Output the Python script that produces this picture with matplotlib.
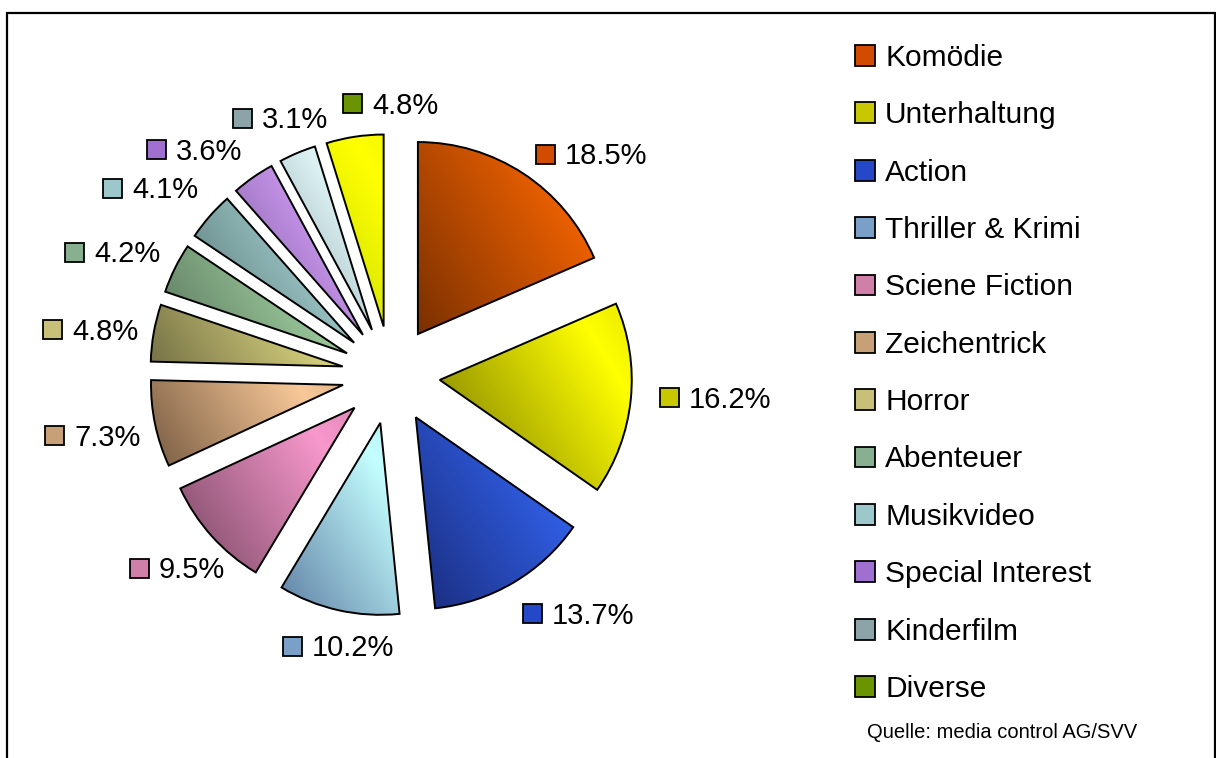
import numpy as np
import matplotlib
matplotlib.use("Agg")
import matplotlib.pyplot as plt
from matplotlib.patches import Rectangle, Patch
from matplotlib.colors import to_rgb

plt.rcParams['font.family'] = ['Liberation Sans', 'DejaVu Sans']

# ---- data ----
categories = ["Komödie", "Unterhaltung", "Action", "Thriller & Krimi", "Sciene Fiction",
              "Zeichentrick", "Horror", "Abenteuer", "Musikvideo", "Special Interest",
              "Kinderfilm", "Diverse"]
shares = [18.5, 16.2, 13.7, 10.2, 9.5, 7.3, 4.8, 4.2, 4.1, 3.6, 3.1, 4.8]
source_note = "Quelle: media control AG/SVV"

# ---- styles ----
slice_dark = ["#7a3000", "#767600", "#1a2c7c", "#5f7fa4", "#784864", "#785c42",
              "#767246", "#5c785e", "#587676", "#785a98", "#8ea6ae", "#c8dc00"]
slice_light = ["#f06200", "#ffff00", "#3262ec", "#c4ffff", "#f898cc", "#f8c898",
               "#d8d27e", "#a2d2a2", "#a8d4d4", "#daa2ff", "#eaffff", "#ffff00"]
key_colors = ["#d24c00", "#c8c800", "#2448c8", "#7aa0c8", "#d080a8", "#c8a078",
              "#c8c078", "#88b090", "#9cc8cc", "#a070d0", "#8ca4a8", "#6a9400"]

# ---- layout (pixel coords, y from top) ----
W, H = 1216, 758
pie_center = (391, 375)
pie_radius = 192
pie_explode = 49
label_key_x = [536, 660, 523, 283, 130, 45, 43, 65, 103, 147, 233, 343]
label_y = [154, 397, 613, 646, 568, 435, 329, 252, 188, 149, 118, 103]
key_size = 19

fig = plt.figure(figsize=(W / 100, H / 100), dpi=100)
ax = fig.add_axes([0, 0, 1, 1])


def Y(y):
    return H - y


wedges, _ = ax.pie(shares, explode=[pie_explode] * len(shares), radius=pie_radius,
                   center=(pie_center[0], Y(pie_center[1])), startangle=90,
                   counterclock=False, colors=key_colors,
                   wedgeprops=dict(edgecolor="black", linewidth=1.4))

ang = np.deg2rad(32)
for w, dk, lt in zip(wedges, slice_dark, slice_light):
    w.set_facecolor("none")
    w.set_zorder(3)
    v = w.get_path().vertices
    x0, y0 = v.min(axis=0)
    x1, y1 = v.max(axis=0)
    n = 200
    X, Yg = np.meshgrid(np.linspace(0, x1 - x0, n), np.linspace(0, y1 - y0, n))
    t = (X * np.cos(ang) + Yg * np.sin(ang)) / ((x1 - x0) * np.cos(ang) + (y1 - y0) * np.sin(ang))
    f = np.where(t < 0.8, t / 0.8, 1 - (t - 0.8) / 0.2 * 0.18)
    c0 = np.array(to_rgb(dk))
    c1 = np.array(to_rgb(lt))
    img = c0[None, None, :] + (c1 - c0)[None, None, :] * f[:, :, None]
    im = ax.imshow(np.clip(img, 0, 1), extent=(x0, x1, y0, y1), origin="lower",
                   interpolation="bilinear", zorder=2)
    im.set_clip_path(w)

# percentage labels with keys
for val, kx, ly, kc in zip(shares, label_key_x, label_y, key_colors):
    ax.add_patch(Rectangle((kx, Y(ly) - key_size / 2), key_size, key_size,
                           facecolor=kc, edgecolor="black", linewidth=1.3, zorder=4))
    ax.text(kx + key_size + 10, Y(ly + 10.5), f"{val:.1f}%", fontsize=21,
            ha="left", va="baseline", zorder=4)

# legend
handles = [Patch(facecolor=c, edgecolor="black", linewidth=1.3) for c in key_colors]
ax.legend(handles, categories, loc="upper left",
          bbox_to_anchor=(855 / W, 1 - 44 / H), bbox_transform=ax.transAxes,
          frameon=False, fontsize=21.5, handlelength=0.68, handleheight=0.7,
          handletextpad=0.33, labelspacing=0.983, borderpad=0, borderaxespad=0)

ax.text(867, Y(732), source_note, fontsize=14.5, ha="left", va="center")

# outer frame
ax.add_patch(Rectangle((6.5, -20), 1208, Y(13) + 20, facecolor="none",
                       edgecolor="black", linewidth=1.6, zorder=5))

ax.set_xlim(0, W)
ax.set_ylim(0, H)
ax.set_aspect("equal")
ax.axis("off")
fig.savefig("out.png", dpi=100)
